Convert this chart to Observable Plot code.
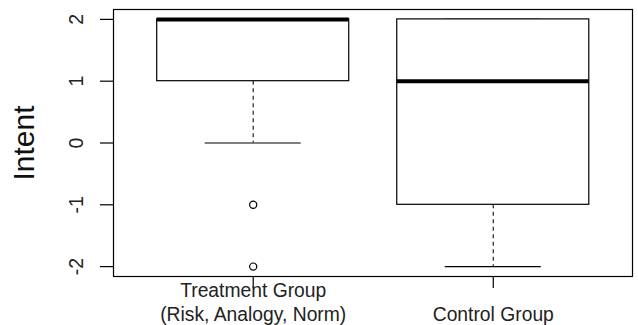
<!DOCTYPE html>
<html><head><meta charset="utf-8">
<script src="https://cdn.jsdelivr.net/npm/d3@7"></script>
<script src="https://cdn.jsdelivr.net/npm/@observablehq/plot@0.6"></script>
<style>html,body{margin:0;padding:0;background:#fff} svg{display:block}</style>
</head><body><div id="chart"></div>
<script>
// Data
const groups = ["Treatment Group\n(Risk, Analogy, Norm)", "Control Group"];
const positions = [1, 2];
const q1 = [1, -1];
const medians = [2, 1];
const q3 = [2, 2];
const whiskerLow = [0, -2];
const whiskerHigh = [2, 2];
const outlierGroup = [1, 1];
const outlierValue = [-1, -2];
const yTicks = [-2, -1, 0, 1, 2];
const yLabel = "Intent";

const boxes = groups.map((g, i) => ({
  g, x: positions[i], q1: q1[i], med: medians[i], q3: q3[i], lo: whiskerLow[i], hi: whiskerHigh[i]
}));
const outliers = outlierValue.map((v, i) => ({x: positions[outlierGroup[i] - 1], v}));
const halfBox = 0.4, halfCap = 0.2;
const lw = 1.2;
const font = "'Liberation Sans', Arial, Helvetica, sans-serif";

const chart = Plot.plot({
  width: 638, height: 325,
  marginLeft: 113, marginTop: 9, marginRight: 6, marginBottom: 49,
  x: {domain: [0.418, 2.58], axis: null},
  y: {domain: [-2.16, 2.16], axis: null},
  style: {fontFamily: font, background: "white", color: "black"},
  marks: [
    Plot.ruleX(boxes, {x: "x", y1: "q1", y2: "lo", stroke: "#222", strokeWidth: 1.2, strokeDasharray: "4,3.5"}),
    Plot.ruleX(boxes, {x: "x", y1: "q3", y2: "hi", stroke: "#222", strokeWidth: 1.2, strokeDasharray: "4,3.5"}),
    Plot.ruleY(boxes, {y: "lo", x1: d => d.x - halfCap, x2: d => d.x + halfCap, stroke: "black", strokeWidth: lw}),
    Plot.ruleY(boxes, {y: "hi", x1: d => d.x - halfCap, x2: d => d.x + halfCap, stroke: "black", strokeWidth: lw}),
    Plot.rect(boxes, {x1: d => d.x - halfBox, x2: d => d.x + halfBox, y1: "q1", y2: "q3", fill: "white", stroke: "black", strokeWidth: lw}),
    Plot.ruleY(boxes, {y: "med", x1: d => d.x - halfBox, x2: d => d.x + halfBox, stroke: "black", strokeWidth: 4}),
    Plot.dot(outliers, {x: "x", y: "v", r: 3.6, stroke: "black", fill: "none", strokeWidth: lw}),
    Plot.frame({stroke: "black", strokeWidth: lw}),
    Plot.axisY({ticks: yTicks, tickSize: 13, tickFormat: () => "", label: null, strokeWidth: lw}),
    Plot.text(yTicks, {y: d => d, text: d => String(d), frameAnchor: "left", dx: -37, rotate: -90,
      fontSize: 19.5, textAnchor: "middle", lineAnchor: "middle", fill: "#222"}),
    Plot.axisX({ticks: positions, tickSize: 12, tickFormat: () => "", label: null, strokeWidth: lw}),
    Plot.text(boxes, {x: "x", text: "g", frameAnchor: "bottom", dy: 44, lineAnchor: "bottom",
      lineHeight: 1.2, fontSize: 19.3, fill: "#222"}),
    Plot.text([yLabel], {text: d => d, frameAnchor: "left", dx: -89, rotate: -90, fontSize: 30,
      textAnchor: "middle", lineAnchor: "middle", fill: "#111"})
  ]
});
document.getElementById("chart").appendChild(chart);
</script>
</body></html>
